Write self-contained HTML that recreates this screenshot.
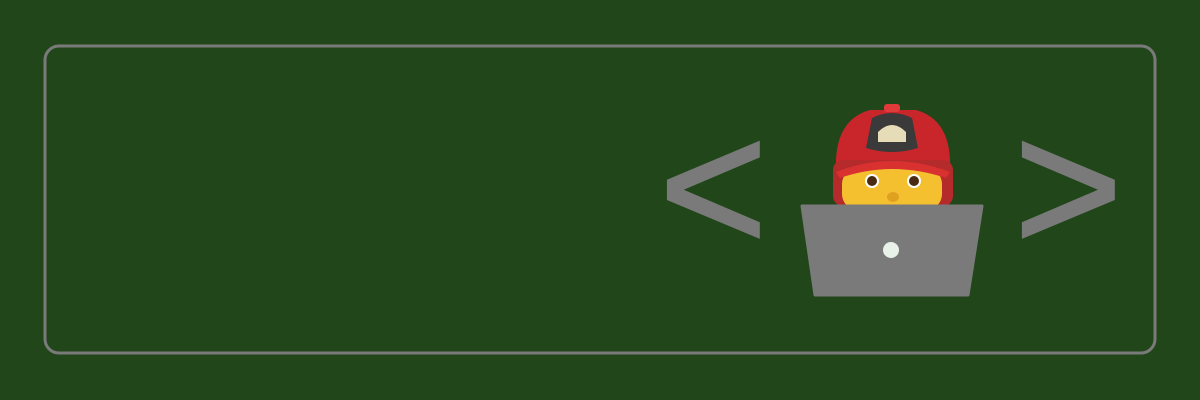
<!DOCTYPE html>
<html><head><meta charset="utf-8"><style>
html,body{margin:0;padding:0;background:#214619;}
svg{display:block}
</style></head><body>
<svg width="1200" height="400" viewBox="0 0 1200 400">
<rect width="1200" height="400" fill="#214619"/>
<rect x="45" y="46" width="1110" height="307" rx="14" fill="none" stroke="#7a7a7a" stroke-width="3"/>
<text x="659" y="251" font-family="Liberation Sans, sans-serif" font-size="186" fill="#7a7a7a" stroke="#7a7a7a" stroke-width="2.5">&lt;</text>
<text x="1014" y="251" font-family="Liberation Sans, sans-serif" font-size="186" fill="#7a7a7a" stroke="#7a7a7a" stroke-width="2.5">&gt;</text>
<g>
  <path d="M836 170 Q834 120 870 110 L916 110 Q952 120 950 170 Z" fill="#c8262b"/>
  <rect x="833" y="160" width="120" height="46" rx="10" fill="#b52a2a"/>
  <rect x="884" y="104" width="16" height="8" rx="3" fill="#e03a3a"/>
  <path d="M872 118 Q892 108 912 118 L918 148 Q892 156 866 148 Z" fill="#3a3a3a"/>
  <path d="M878 132 Q892 118 906 132 L906 142 L878 142 Z" fill="#e6dcb8"/>
  <rect x="842" y="168" width="100" height="42" rx="16" fill="#f5c030"/>
  <path d="M836 172 Q892 150 950 172 L946 178 Q892 160 840 178 Z" fill="#d93030"/>
  <circle cx="872" cy="181" r="7" fill="#fff"/><circle cx="872" cy="181" r="5" fill="#4a2a10"/>
  <circle cx="914" cy="181" r="7" fill="#fff"/><circle cx="914" cy="181" r="5" fill="#4a2a10"/>
  <ellipse cx="893" cy="197" rx="6" ry="5" fill="#e0a020"/>
</g>
<polygon points="802,206 982,206 968,295 815,295" fill="#7a7a7a" stroke="#7a7a7a" stroke-width="3" stroke-linejoin="round"/>
<circle cx="891" cy="250" r="8" fill="#e8f2e8"/>
</svg>
</body></html>
